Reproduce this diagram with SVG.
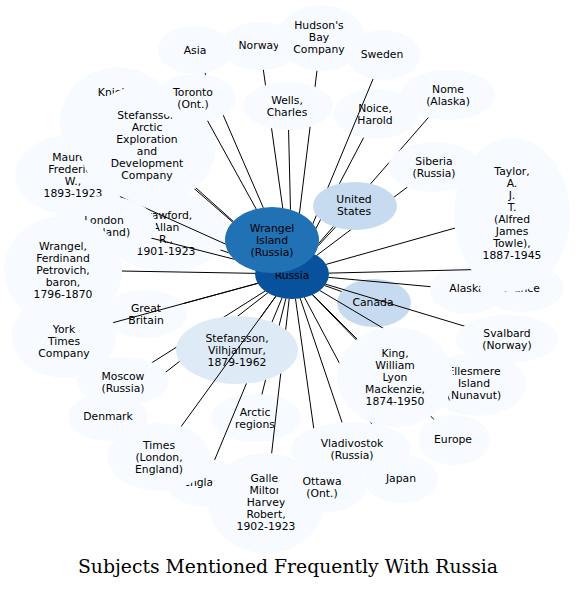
<svg xmlns="http://www.w3.org/2000/svg" xmlns:xlink="http://www.w3.org/1999/xlink" width="576" height="589" viewBox="0 0 576 589">
<style>
.c0{fill:#f7fbff}
.c1{fill:#deebf7}
.c2{fill:#c6dbef}
.c3{fill:#2171b5}
.c4{fill:#08519c}
.node text{fill:#000;font-family:"DejaVu Sans","Verdana",sans-serif;font-size:10.8px;text-anchor:middle}
.edges line{stroke:#000;stroke-width:1;fill:none}
.title{font-family:"DejaVu Serif","Liberation Serif",serif;font-size:18.8px;text-anchor:middle;fill:#000}
</style>
<rect width="576" height="589" fill="#fff"/>
<g id="nodes">
<g id="n-knight" class="node c0"><ellipse id="e-knight" cx="118" cy="122" rx="58" ry="55"/><text x="117" y="96">Knight,</text></g>
<g id="n-crawford" class="node c0"><ellipse id="e-crawford" cx="167" cy="232" rx="60" ry="40"/><text x="166" y="219">Crawford,</text><text x="166" y="231">Allan</text><text x="166" y="243">R.,</text><text x="166" y="255">1901-1923</text></g>
<g id="n-maurer" class="node c0"><ellipse id="e-maurer" cx="72" cy="175" rx="57" ry="40"/><text x="73" y="161">Maurer,</text><text x="73" y="173">Frederick</text><text x="73" y="185">W.,</text><text x="73" y="197">1893-1923</text></g>
<g id="n-sae" class="node c0"><ellipse id="e-sae" cx="148" cy="145" rx="68" ry="60"/><text x="147" y="119">Stefansson</text><text x="147" y="131">Arctic</text><text x="147" y="143">Exploration</text><text x="147" y="155">and</text><text x="147" y="167">Development</text><text x="147" y="179">Company</text></g>
<g id="n-asia" class="node c0"><ellipse id="e-asia" cx="195" cy="50" rx="37" ry="24"/><text x="195" y="54">Asia</text></g>
<g id="n-toronto" class="node c0"><ellipse id="e-toronto" cx="195" cy="98" rx="41" ry="24"/><text x="193" y="96">Toronto</text><text x="193" y="108">(Ont.)</text></g>
<g id="n-norway" class="node c0"><ellipse id="e-norway" cx="260" cy="46" rx="39" ry="24"/><text x="259" y="49">Norway</text></g>
<g id="n-hudson" class="node c0"><ellipse id="e-hudson" cx="321" cy="38" rx="44" ry="33"/><text x="319" y="29">Hudson's</text><text x="319" y="41">Bay</text><text x="319" y="53">Company</text></g>
<g id="n-wells" class="node c0"><ellipse id="e-wells" cx="288" cy="106" rx="45" ry="24"/><text x="287" y="104">Wells,</text><text x="287" y="116">Charles</text></g>
<g id="n-noice" class="node c0"><ellipse id="e-noice" cx="376" cy="114" rx="42" ry="25"/><text x="375" y="112">Noice,</text><text x="375" y="124">Harold</text></g>
<g id="n-sweden" class="node c0"><ellipse id="e-sweden" cx="383" cy="55" rx="37" ry="25"/><text x="382" y="58">Sweden</text></g>
<g id="n-nome" class="node c0"><ellipse id="e-nome" cx="448" cy="95" rx="47" ry="25"/><text x="448" y="93">Nome</text><text x="448" y="105">(Alaska)</text></g>
<g id="n-siberia" class="node c0"><ellipse id="e-siberia" cx="434" cy="167" rx="46" ry="25"/><text x="434" y="165">Siberia</text><text x="434" y="177">(Russia)</text></g>
<g id="n-us" class="node c2"><ellipse id="e-us" cx="355" cy="206" rx="42" ry="24"/><text x="354" y="203">United</text><text x="354" y="215">States</text></g>
<g id="n-canada" class="node c2"><ellipse id="e-canada" cx="374" cy="303" rx="37" ry="24"/><text x="373" y="306">Canada</text></g>
<g id="n-alaska" class="node c0"><ellipse id="e-alaska" cx="467" cy="290" rx="37" ry="24"/><text x="467" y="292">Alaska</text></g>
<g id="n-france" class="node c0"><ellipse id="e-france" cx="522" cy="288" rx="42" ry="24"/><text x="522" y="292">France</text></g>
<g id="n-taylor" class="node c0"><ellipse id="e-taylor" cx="512" cy="215" rx="58" ry="77"/><text x="512" y="175">Taylor,</text><text x="512" y="187">A.</text><text x="512" y="199">J.</text><text x="512" y="211">T.</text><text x="512" y="223">(Alfred</text><text x="512" y="235">James</text><text x="512" y="247">Towle),</text><text x="512" y="259">1887-1945</text></g>
<g id="n-svalbard" class="node c0"><ellipse id="e-svalbard" cx="507" cy="339" rx="51" ry="24"/><text x="507" y="337">Svalbard</text><text x="507" y="349">(Norway)</text></g>
<g id="n-ellesmere" class="node c0"><ellipse id="e-ellesmere" cx="477" cy="384" rx="49" ry="32"/><text x="474" y="375">Ellesmere</text><text x="474" y="387">Island</text><text x="474" y="399">(Nunavut)</text></g>
<g id="n-europe" class="node c0"><ellipse id="e-europe" cx="454" cy="440" rx="36" ry="25"/><text x="453" y="443">Europe</text></g>
<g id="n-japan" class="node c0"><ellipse id="e-japan" cx="401" cy="479" rx="37" ry="24"/><text x="401" y="482">Japan</text></g>
<g id="n-king" class="node c0"><ellipse id="e-king" cx="395" cy="377" rx="58" ry="50"/><text x="395" y="357">King,</text><text x="395" y="369">William</text><text x="395" y="381">Lyon</text><text x="395" y="393">Mackenzie,</text><text x="395" y="405">1874-1950</text></g>
<g id="n-london" class="node c0"><ellipse id="e-london" cx="104" cy="226" rx="52" ry="30"/><text x="104" y="224">London</text><text x="104" y="236">(England)</text></g>
<g id="n-gb" class="node c0"><ellipse id="e-gb" cx="145" cy="314" rx="42" ry="24"/><text x="146" y="312">Great</text><text x="146" y="324">Britain</text></g>
<g id="n-nyt" class="node c0"><ellipse id="e-nyt" cx="64" cy="336" rx="52" ry="42"/><text x="64" y="333">York</text><text x="64" y="345">Times</text><text x="64" y="357">Company</text></g>
<g id="n-wrangelf" class="node c0"><ellipse id="e-wrangelf" cx="63" cy="270" rx="59" ry="54"/><text x="63" y="250">Wrangel,</text><text x="63" y="262">Ferdinand</text><text x="63" y="274">Petrovich,</text><text x="63" y="286">baron,</text><text x="63" y="298">1796-1870</text></g>
<g id="n-denmark" class="node c0"><ellipse id="e-denmark" cx="108" cy="417" rx="40" ry="24"/><text x="108" y="420">Denmark</text></g>
<g id="n-moscow" class="node c0"><ellipse id="e-moscow" cx="123" cy="381" rx="46" ry="24"/><text x="123" y="380">Moscow</text><text x="123" y="392">(Russia)</text></g>
<g id="n-arctic" class="node c0"><ellipse id="e-arctic" cx="256" cy="418" rx="45" ry="24"/><text x="255" y="416">Arctic</text><text x="255" y="428">regions</text></g>
<g id="n-england" class="node c0"><ellipse id="e-england" cx="205" cy="483" rx="38" ry="24"/><text x="205" y="486">England</text></g>
<g id="n-galle" class="node c0"><ellipse id="e-galle" cx="266" cy="503" rx="58" ry="50"/><text x="266" y="482">Galle,</text><text x="266" y="494">Milton</text><text x="266" y="506">Harvey</text><text x="266" y="518">Robert,</text><text x="266" y="530">1902-1923</text></g>
<g id="n-stefv" class="node c1"><ellipse id="e-stefv" cx="237" cy="350" rx="61" ry="34"/><text x="237" y="342">Stefansson,</text><text x="237" y="354">Vilhjalmur,</text><text x="237" y="366">1879-1962</text></g>
<g id="n-times" class="node c0"><ellipse id="e-times" cx="159" cy="457" rx="51" ry="34"/><text x="159" y="449">Times</text><text x="159" y="461">(London,</text><text x="159" y="473">England)</text></g>
<g id="n-ottawa" class="node c0"><ellipse id="e-ottawa" cx="322" cy="487" rx="44" ry="26"/><text x="322" y="485">Ottawa</text><text x="322" y="497">(Ont.)</text></g>
<g id="n-vladivostok" class="node c0"><ellipse id="e-vladivostok" cx="351" cy="449" rx="60" ry="27"/><text x="352" y="447">Vladivostok</text><text x="352" y="459">(Russia)</text></g>
<g id="n-russia" class="node c4"><ellipse id="e-russia" cx="292" cy="274" rx="37" ry="25"/><text x="292" y="279">Russia</text></g>
<g id="n-wrangel" class="node c3"><ellipse id="e-wrangel" cx="272" cy="240" rx="47" ry="33"/><text x="272" y="232">Wrangel</text><text x="272" y="244">Island</text><text x="272" y="256">(Russia)</text></g>
</g>
<defs>
<g id="base"><use href="#e-russia"/><use href="#e-wrangel"/></g>
<mask id="m-knight" maskUnits="userSpaceOnUse" x="0" y="0" width="576" height="589"><rect width="576" height="589" fill="#fff"/><g fill="#000"><use href="#base"/><use href="#e-knight"/><use href="#e-sae"/></g></mask>
<mask id="m-crawford" maskUnits="userSpaceOnUse" x="0" y="0" width="576" height="589"><rect width="576" height="589" fill="#fff"/><g fill="#000"><use href="#base"/><use href="#e-crawford"/></g></mask>
<mask id="m-maurer" maskUnits="userSpaceOnUse" x="0" y="0" width="576" height="589"><rect width="576" height="589" fill="#fff"/><g fill="#000"><use href="#base"/><use href="#e-maurer"/><use href="#e-london"/></g></mask>
<mask id="m-sae" maskUnits="userSpaceOnUse" x="0" y="0" width="576" height="589"><rect width="576" height="589" fill="#fff"/><g fill="#000"><use href="#base"/><use href="#e-sae"/></g></mask>
<mask id="m-asia" maskUnits="userSpaceOnUse" x="0" y="0" width="576" height="589"><rect width="576" height="589" fill="#fff"/><g fill="#000"><use href="#base"/><use href="#e-asia"/><use href="#e-toronto"/></g></mask>
<mask id="m-toronto" maskUnits="userSpaceOnUse" x="0" y="0" width="576" height="589"><rect width="576" height="589" fill="#fff"/><g fill="#000"><use href="#base"/><use href="#e-toronto"/></g></mask>
<mask id="m-norway" maskUnits="userSpaceOnUse" x="0" y="0" width="576" height="589"><rect width="576" height="589" fill="#fff"/><g fill="#000"><use href="#base"/><use href="#e-norway"/><use href="#e-wells"/></g></mask>
<mask id="m-hudson" maskUnits="userSpaceOnUse" x="0" y="0" width="576" height="589"><rect width="576" height="589" fill="#fff"/><g fill="#000"><use href="#base"/><use href="#e-hudson"/><use href="#e-wells"/></g></mask>
<mask id="m-wells" maskUnits="userSpaceOnUse" x="0" y="0" width="576" height="589"><rect width="576" height="589" fill="#fff"/><g fill="#000"><use href="#base"/><use href="#e-wells"/></g></mask>
<mask id="m-noice" maskUnits="userSpaceOnUse" x="0" y="0" width="576" height="589"><rect width="576" height="589" fill="#fff"/><g fill="#000"><use href="#base"/><use href="#e-noice"/><use href="#e-us"/></g></mask>
<mask id="m-sweden" maskUnits="userSpaceOnUse" x="0" y="0" width="576" height="589"><rect width="576" height="589" fill="#fff"/><g fill="#000"><use href="#base"/><use href="#e-sweden"/><use href="#e-us"/></g></mask>
<mask id="m-nome" maskUnits="userSpaceOnUse" x="0" y="0" width="576" height="589"><rect width="576" height="589" fill="#fff"/><g fill="#000"><use href="#base"/><use href="#e-nome"/><use href="#e-siberia"/><use href="#e-us"/></g></mask>
<mask id="m-siberia" maskUnits="userSpaceOnUse" x="0" y="0" width="576" height="589"><rect width="576" height="589" fill="#fff"/><g fill="#000"><use href="#base"/><use href="#e-siberia"/><use href="#e-us"/></g></mask>
<mask id="m-us" maskUnits="userSpaceOnUse" x="0" y="0" width="576" height="589"><rect width="576" height="589" fill="#fff"/><g fill="#000"><use href="#base"/><use href="#e-us"/></g></mask>
<mask id="m-canada" maskUnits="userSpaceOnUse" x="0" y="0" width="576" height="589"><rect width="576" height="589" fill="#fff"/><g fill="#000"><use href="#base"/><use href="#e-canada"/></g></mask>
<mask id="m-alaska" maskUnits="userSpaceOnUse" x="0" y="0" width="576" height="589"><rect width="576" height="589" fill="#fff"/><g fill="#000"><use href="#base"/><use href="#e-alaska"/></g></mask>
<mask id="m-france" maskUnits="userSpaceOnUse" x="0" y="0" width="576" height="589"><rect width="576" height="589" fill="#fff"/><g fill="#000"><use href="#base"/><use href="#e-france"/><use href="#e-taylor"/></g></mask>
<mask id="m-taylor" maskUnits="userSpaceOnUse" x="0" y="0" width="576" height="589"><rect width="576" height="589" fill="#fff"/><g fill="#000"><use href="#base"/><use href="#e-taylor"/></g></mask>
<mask id="m-svalbard" maskUnits="userSpaceOnUse" x="0" y="0" width="576" height="589"><rect width="576" height="589" fill="#fff"/><g fill="#000"><use href="#base"/><use href="#e-svalbard"/></g></mask>
<mask id="m-ellesmere" maskUnits="userSpaceOnUse" x="0" y="0" width="576" height="589"><rect width="576" height="589" fill="#fff"/><g fill="#000"><use href="#base"/><use href="#e-ellesmere"/><use href="#e-king"/></g></mask>
<mask id="m-europe" maskUnits="userSpaceOnUse" x="0" y="0" width="576" height="589"><rect width="576" height="589" fill="#fff"/><g fill="#000"><use href="#base"/><use href="#e-europe"/><use href="#e-king"/></g></mask>
<mask id="m-japan" maskUnits="userSpaceOnUse" x="0" y="0" width="576" height="589"><rect width="576" height="589" fill="#fff"/><g fill="#000"><use href="#base"/><use href="#e-japan"/><use href="#e-king"/><use href="#e-vladivostok"/></g></mask>
<mask id="m-king" maskUnits="userSpaceOnUse" x="0" y="0" width="576" height="589"><rect width="576" height="589" fill="#fff"/><g fill="#000"><use href="#base"/><use href="#e-king"/></g></mask>
<mask id="m-london" maskUnits="userSpaceOnUse" x="0" y="0" width="576" height="589"><rect width="576" height="589" fill="#fff"/><g fill="#000"><use href="#base"/><use href="#e-london"/></g></mask>
<mask id="m-gb" maskUnits="userSpaceOnUse" x="0" y="0" width="576" height="589"><rect width="576" height="589" fill="#fff"/><g fill="#000"><use href="#base"/><use href="#e-gb"/></g></mask>
<mask id="m-nyt" maskUnits="userSpaceOnUse" x="0" y="0" width="576" height="589"><rect width="576" height="589" fill="#fff"/><g fill="#000"><use href="#base"/><use href="#e-nyt"/></g></mask>
<mask id="m-wrangelf" maskUnits="userSpaceOnUse" x="0" y="0" width="576" height="589"><rect width="576" height="589" fill="#fff"/><g fill="#000"><use href="#base"/><use href="#e-wrangelf"/></g></mask>
<mask id="m-denmark" maskUnits="userSpaceOnUse" x="0" y="0" width="576" height="589"><rect width="576" height="589" fill="#fff"/><g fill="#000"><use href="#base"/><use href="#e-denmark"/><use href="#e-moscow"/><use href="#e-stefv"/></g></mask>
<mask id="m-moscow" maskUnits="userSpaceOnUse" x="0" y="0" width="576" height="589"><rect width="576" height="589" fill="#fff"/><g fill="#000"><use href="#base"/><use href="#e-moscow"/><use href="#e-stefv"/></g></mask>
<mask id="m-arctic" maskUnits="userSpaceOnUse" x="0" y="0" width="576" height="589"><rect width="576" height="589" fill="#fff"/><g fill="#000"><use href="#base"/><use href="#e-arctic"/><use href="#e-stefv"/></g></mask>
<mask id="m-england" maskUnits="userSpaceOnUse" x="0" y="0" width="576" height="589"><rect width="576" height="589" fill="#fff"/><g fill="#000"><use href="#base"/><use href="#e-england"/><use href="#e-stefv"/></g></mask>
<mask id="m-galle" maskUnits="userSpaceOnUse" x="0" y="0" width="576" height="589"><rect width="576" height="589" fill="#fff"/><g fill="#000"><use href="#base"/><use href="#e-galle"/><use href="#e-stefv"/></g></mask>
<mask id="m-stefv" maskUnits="userSpaceOnUse" x="0" y="0" width="576" height="589"><rect width="576" height="589" fill="#fff"/><g fill="#000"><use href="#base"/><use href="#e-stefv"/></g></mask>
<mask id="m-times" maskUnits="userSpaceOnUse" x="0" y="0" width="576" height="589"><rect width="576" height="589" fill="#fff"/><g fill="#000"><use href="#base"/><use href="#e-times"/></g></mask>
<mask id="m-ottawa" maskUnits="userSpaceOnUse" x="0" y="0" width="576" height="589"><rect width="576" height="589" fill="#fff"/><g fill="#000"><use href="#base"/><use href="#e-ottawa"/><use href="#e-vladivostok"/></g></mask>
<mask id="m-vladivostok" maskUnits="userSpaceOnUse" x="0" y="0" width="576" height="589"><rect width="576" height="589" fill="#fff"/><g fill="#000"><use href="#base"/><use href="#e-vladivostok"/></g></mask>
</defs>
<g id="edges" class="edges">
<line x1="292" y1="274" x2="118" y2="122" mask="url(#m-knight)"/>
<line x1="292" y1="274" x2="167" y2="232" mask="url(#m-crawford)"/>
<line x1="292" y1="274" x2="72" y2="175" mask="url(#m-maurer)"/>
<line x1="292" y1="274" x2="148" y2="145" mask="url(#m-sae)"/>
<line x1="292" y1="274" x2="195" y2="50" mask="url(#m-asia)"/>
<line x1="292" y1="274" x2="195" y2="98" mask="url(#m-toronto)"/>
<line x1="292" y1="274" x2="260" y2="46" mask="url(#m-norway)"/>
<line x1="292" y1="274" x2="321" y2="38" mask="url(#m-hudson)"/>
<line x1="292" y1="274" x2="288" y2="106" mask="url(#m-wells)"/>
<line x1="292" y1="274" x2="376" y2="114" mask="url(#m-noice)"/>
<line x1="292" y1="274" x2="383" y2="55" mask="url(#m-sweden)"/>
<line x1="292" y1="274" x2="448" y2="95" mask="url(#m-nome)"/>
<line x1="292" y1="274" x2="434" y2="167" mask="url(#m-siberia)"/>
<line x1="292" y1="274" x2="355" y2="206" mask="url(#m-us)"/>
<line x1="292" y1="274" x2="374" y2="303" mask="url(#m-canada)"/>
<line x1="292" y1="274" x2="467" y2="290" mask="url(#m-alaska)"/>
<line x1="292" y1="274" x2="540" y2="268" mask="url(#m-france)"/>
<line x1="292" y1="274" x2="512" y2="212" mask="url(#m-taylor)"/>
<line x1="292" y1="274" x2="507" y2="339" mask="url(#m-svalbard)"/>
<line x1="292" y1="274" x2="477" y2="384" mask="url(#m-ellesmere)"/>
<line x1="292" y1="274" x2="454" y2="440" mask="url(#m-europe)"/>
<line x1="292" y1="274" x2="401" y2="479" mask="url(#m-japan)"/>
<line x1="292" y1="274" x2="395" y2="377" mask="url(#m-king)"/>
<line x1="292" y1="274" x2="104" y2="226" mask="url(#m-london)"/>
<line x1="292" y1="274" x2="145" y2="314" mask="url(#m-gb)"/>
<line x1="292" y1="274" x2="64" y2="336" mask="url(#m-nyt)"/>
<line x1="292" y1="274" x2="63" y2="270" mask="url(#m-wrangelf)"/>
<line x1="292" y1="274" x2="108" y2="417" mask="url(#m-denmark)"/>
<line x1="292" y1="274" x2="123" y2="381" mask="url(#m-moscow)"/>
<line x1="292" y1="274" x2="256" y2="418" mask="url(#m-arctic)"/>
<line x1="292" y1="274" x2="205" y2="483" mask="url(#m-england)"/>
<line x1="292" y1="274" x2="266" y2="503" mask="url(#m-galle)"/>
<line x1="292" y1="274" x2="237" y2="350" mask="url(#m-stefv)"/>
<line x1="292" y1="274" x2="159" y2="457" mask="url(#m-times)"/>
<line x1="292" y1="274" x2="322" y2="487" mask="url(#m-ottawa)"/>
<line x1="292" y1="274" x2="351" y2="449" mask="url(#m-vladivostok)"/>
</g>
<text class="title" x="288" y="573">Subjects Mentioned Frequently With Russia</text>
</svg>
